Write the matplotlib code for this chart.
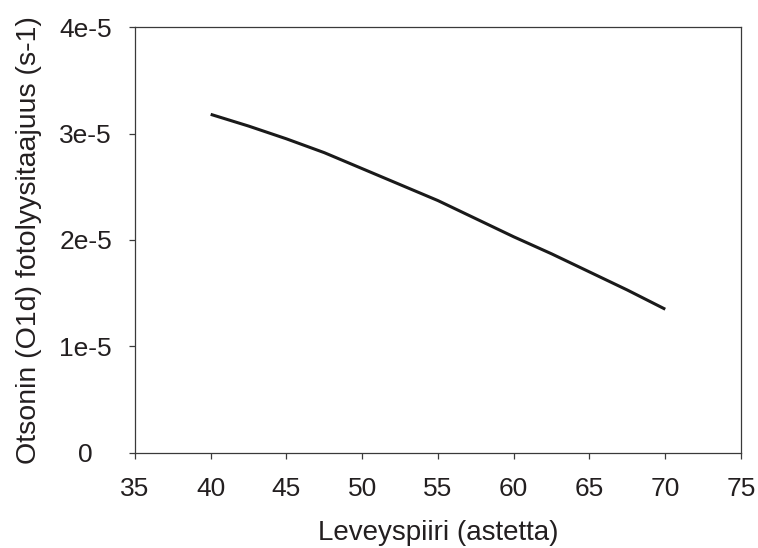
import matplotlib
matplotlib.use("Agg")
import matplotlib.pyplot as plt
from matplotlib.ticker import FixedLocator, FixedFormatter

# Leveyspiiri ja fotolyysitaajuus (luettu kuvasta)
leveys = [40, 42.5, 45, 47.5, 50, 52.5, 55, 57.5, 60, 62.5, 65, 67.5, 70]
taajuus = [3.18e-5, 3.07e-5, 2.95e-5, 2.82e-5, 2.67e-5, 2.52e-5, 2.37e-5,
           2.20e-5, 2.03e-5, 1.87e-5, 1.70e-5, 1.53e-5, 1.35e-5]

x_ticks = [35, 40, 45, 50, 55, 60, 65, 70, 75]
y_ticks = [0, 1e-5, 2e-5, 3e-5, 4e-5]
y_labels = ["0", "1e-5", "2e-5", "3e-5", "4e-5"]

plt.rcParams['font.family'] = ['Liberation Sans', 'DejaVu Sans']
tekstin_vari = "#231f20"

fig = plt.figure(figsize=(7.58, 5.48), dpi=100)
ax = fig.add_axes([0.178, 0.1734, 0.7996, 0.7773])

ax.plot(leveys, taajuus, color="#1a1a1a", linewidth=2.2,
        solid_joinstyle="round", solid_capstyle="butt")

ax.set_xlim(35, 75)
ax.set_ylim(0, 4e-5)
ax.xaxis.set_major_locator(FixedLocator(x_ticks))
ax.yaxis.set_major_locator(FixedLocator(y_ticks))
ax.yaxis.set_major_formatter(FixedFormatter(y_labels))

for s in ax.spines.values():
    s.set_color("#3a3a3a")
    s.set_linewidth(0.9)

ax.tick_params(direction="out", length=4, width=0.9, color="#3a3a3a",
               labelsize=19, labelcolor=tekstin_vari)
ax.tick_params(axis="x", pad=13)
# y-akselin luvut on keskitetty
ax.tick_params(axis="y", pad=31.5)
for tick in ax.yaxis.get_major_ticks():
    tick.label1.set_horizontalalignment("center")

ax.set_xlabel("Leveyspiiri (astetta)", fontsize=20, color=tekstin_vari)
ax.set_ylabel("Otsonin (O1d) fotolyysitaajuus (s-1)", fontsize=20.5,
              color=tekstin_vari)
ax.xaxis.set_label_coords(0.5, -0.157)
ax.yaxis.set_label_coords(-0.153, 0.5)

fig.savefig("out.png", dpi=100)
